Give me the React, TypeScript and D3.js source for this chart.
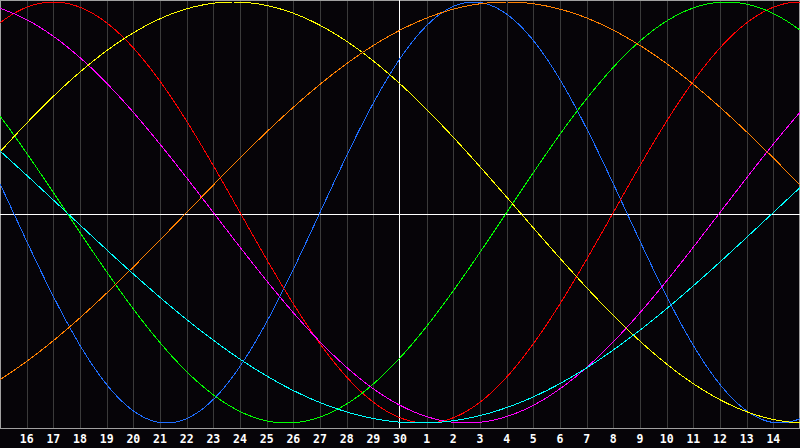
import React from "react";
import * as d3 from "d3";

// Biorhythm cycles (days) and their colours
const cycleNames = ["Physical", "Emotional", "Intellectual", "Intuitive", "Aesthetic", "Awareness", "Spiritual"];
const cyclePeriods = [23, 28, 33, 38, 43, 48, 53];
const cycleColors = ["#1e6eff", "#ff0000", "#00ff00", "#ff00ff", "#ffff00", "#ff8000", "#00ffff"];

// Days elapsed since birth at the first (left-most) day shown
const daysAtStart = 23609;

// Day-of-month labels along the x axis (index 0 = left edge)
const dayLabels = [15, 16, 17, 18, 19, 20, 21, 22, 23, 24, 25, 26, 27, 28, 29, 30, 1, 2, 3, 4, 5, 6, 7, 8, 9, 10, 11, 12, 13, 14];
const todayIndex = 15;

const W = 800;
const H = 448;
const plotBottom = 428;

export default function App() {
  const nDays = dayLabels.length;
  const x = d3.scaleLinear().domain([0, nDays]).range([0, W]);
  const y = d3.scaleLinear().domain([-1, 1]).range([423, 2]);

  const samples = d3.range(0, W + 1, 1).map((px) => x.invert(px));

  const paths = cyclePeriods.map((P, ci) => {
    const gen = d3
      .line<number>()
      .x((d) => x(d))
      .y((d) => y(Math.sin((2 * Math.PI * (daysAtStart + d)) / P)));
    return { d: gen(samples) || "", color: cycleColors[ci], name: cycleNames[ci] };
  });

  const midY = 214;
  const todayX = Math.round(x(todayIndex));

  return (
    <svg
      width={W}
      height={H}
      style={{ position: "absolute", left: 0, top: 0, display: "block" }}
    >
      <rect x={0} y={0} width={W} height={H} fill="#060408" />
      {/* vertical day grid */}
      {dayLabels.map((lab, i) =>
        i === 0 || i === todayIndex ? null : (
          <line
            key={"g" + i}
            x1={Math.round(x(i)) + 0.5}
            x2={Math.round(x(i)) + 0.5}
            y1={0}
            y2={plotBottom}
            stroke="#3a3a3a"
            strokeWidth={1}
            shapeRendering="crispEdges"
          />
        )
      )}
      {/* border */}
      <line x1={0.5} x2={0.5} y1={0} y2={plotBottom} stroke="#a0a0a0" shapeRendering="crispEdges" />
      <line x1={0} x2={W} y1={0.5} y2={0.5} stroke="#a0a0a0" shapeRendering="crispEdges" />
      <line x1={W - 0.5} x2={W - 0.5} y1={0} y2={plotBottom} stroke="#a0a0a0" shapeRendering="crispEdges" />
      <line x1={0} x2={W} y1={plotBottom + 0.5} y2={plotBottom + 0.5} stroke="#a0a0a0" shapeRendering="crispEdges" />
      {/* centre cross */}
      <line x1={0} x2={W} y1={midY + 0.5} y2={midY + 0.5} stroke="#ffffff" shapeRendering="crispEdges" />
      <line x1={todayX - 0.5} x2={todayX - 0.5} y1={0} y2={plotBottom} stroke="#ffffff" shapeRendering="crispEdges" />
      {/* cycles */}
      {paths.map((p) => (
        <path
          key={p.name}
          d={p.d}
          fill="none"
          stroke={p.color}
          strokeWidth={1}
          shapeRendering="crispEdges"
        />
      ))}
      {/* day labels */}
      {dayLabels.map((lab, i) =>
        i === 0 ? null : (
          <text
            key={"t" + i}
            x={x(i)}
            y={443}
            textAnchor="middle"
            fill="#ffffff"
            fontFamily="'DejaVu Sans Mono', monospace"
            fontWeight="bold"
            fontSize={11.5}
          >
            {lab}
          </text>
        )
      )}
    </svg>
  );
}
